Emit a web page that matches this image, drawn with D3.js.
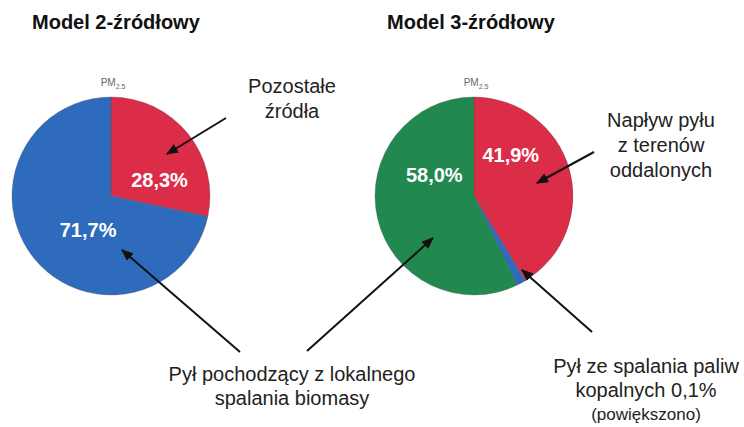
<!DOCTYPE html>
<html lang="pl">
<head>
  <meta charset="UTF-8">
  <title>Źródła PM2.5 – model 2- i 3-źródłowy</title>
  <script src="https://d3js.org/d3.v7.min.js"></script>
  <style>
    body { margin: 0; background: #fff; font-family: "Liberation Sans", Arial, sans-serif; }
    .title { font-size: 20px; font-weight: bold; fill: #111; }
    .note { font-size: 20px; fill: #222; }
    .small { font-size: 17px; fill: #222; }
    .pm { font-size: 10px; fill: #666; }
    .pct { font-size: 20px; font-weight: bold; fill: #fff; }
    .arrow { stroke: #111; stroke-width: 2; fill: none; }
  </style>
</head>
<body>
  <svg width="744" height="427"></svg>
  <script>
    // data
    const titles = ["Model 2-źródłowy", "Model 3-źródłowy"];
    const sources2 = ["Pozostałe źródła", "Pył z lokalnego spalania biomasy"];
    const values2 = [28.3, 71.7];
    const sources3 = ["Napływ pyłu z terenów oddalonych", "Pył ze spalania paliw kopalnych", "Pył z lokalnego spalania biomasy"];
    const values3 = [41.9, 0.1, 58.0];
    const colors = {
      "Pozostałe źródła": "#db2c48",
      "Napływ pyłu z terenów oddalonych": "#db2c48",
      "Pył ze spalania paliw kopalnych": "#2f6bbd",
      "Pył z lokalnego spalania biomasy": "#2f6bbd"
    };

    const svg = d3.select("svg");
    const pl = d3.formatLocale({decimal: ",", thousands: " ", grouping: [3], currency: ["", " zł"]});
    const fmt = v => pl.format(".1f")(v) + "%";

    const marker = svg.append("defs").append("marker")
      .attr("id", "head")
      .attr("markerUnits", "userSpaceOnUse")
      .attr("markerWidth", 12).attr("markerHeight", 10)
      .attr("refX", 11).attr("refY", 5)
      .attr("orient", "auto");
    marker.append("path").attr("d", "M0,0 L12,5 L0,10 Z").attr("fill", "#111");

    const r = 99;
    const minShown = 1.5; // tiny slice is drawn enlarged ("powiększono")

    function drawPie(cfg) {
      const g = svg.append("g").attr("transform", `translate(${cfg.cx},${cfg.cy})`);
      const rows = cfg.names.map((n, i) => ({name: n, value: cfg.values[i], color: cfg.colors[i]}));
      const pie = d3.pie().sort(null).value(d => Math.max(d.value, minShown));
      const arc = d3.arc().innerRadius(0).outerRadius(r);

      g.selectAll("path.slice")
        .data(pie(rows))
        .enter().append("path")
        .attr("class", "slice")
        .attr("d", arc)
        .attr("fill", d => d.data.color)
        .attr("stroke", "rgba(80,80,80,0.45)")
        .attr("stroke-width", 0.7);

      // percent labels inside slices
      cfg.labels.forEach(l => {
        const a = l.angle * Math.PI / 180;
        g.append("text")
          .attr("class", "pct")
          .attr("x", l.dist * Math.sin(a))
          .attr("y", -l.dist * Math.cos(a))
          .attr("dy", "0.35em")
          .attr("text-anchor", "middle")
          .text(fmt(rows[l.i].value));
      });

      const pm = svg.append("text")
        .attr("class", "pm")
        .attr("x", cfg.cx + 2)
        .attr("y", cfg.cy - r - 11)
        .attr("text-anchor", "middle")
        .text("PM");
      pm.append("tspan").attr("font-size", "7px").attr("dy", 3).text("2.5");

      svg.append("text")
        .attr("class", "title")
        .attr("x", cfg.titleX)
        .attr("y", 29)
        .text(cfg.title);
    }

    drawPie({
      title: titles[0], titleX: 32, cx: 111, cy: 196,
      names: sources2, values: values2,
      colors: ["#db2c48", "#2f6bbd"],
      labels: [{i: 0, angle: 72, dist: 51}, {i: 1, angle: 214, dist: 41}]
    });
    drawPie({
      title: titles[1], titleX: 387, cx: 474, cy: 196,
      names: sources3, values: values3,
      colors: ["#db2c48", "#2f6bbd", "#21894f"],
      labels: [{i: 0, angle: 42, dist: 55}, {i: 2, angle: 298, dist: 45}]
    });

    // callout texts
    function note(lines, x, y, step, cls) {
      const t = svg.append("text").attr("text-anchor", "middle");
      lines.forEach((s, k) => {
        t.append("tspan")
          .attr("class", cls ? cls[k] : "note")
          .attr("x", x)
          .attr("y", y + k * step)
          .text(s);
      });
    }
    note(["Pozostałe", "źródła"], 292, 93, 25);
    note(["Napływ pyłu", "z terenów", "oddalonych"], 661, 127, 25);
    note(["Pył pochodzący z lokalnego", "spalania biomasy"], 292, 381, 24);
    note(["Pył ze spalania paliw", "kopalnych " + fmt(values3[1]), "(powiększono)"], 646, 373, 23.5,
         ["note", "note", "small"]);

    // arrows: [x1, y1, x2 (tip), y2]
    const arrows = [
      [226, 118, 167, 154],
      [240, 352, 122, 250],
      [307, 351, 433, 238],
      [594, 152, 537, 183],
      [592, 332, 522, 270]
    ];
    svg.selectAll("line.arrow")
      .data(arrows)
      .enter().append("line")
      .attr("class", "arrow")
      .attr("x1", d => d[0]).attr("y1", d => d[1])
      .attr("x2", d => d[2]).attr("y2", d => d[3])
      .attr("marker-end", "url(#head)");
  </script>
</body>
</html>
